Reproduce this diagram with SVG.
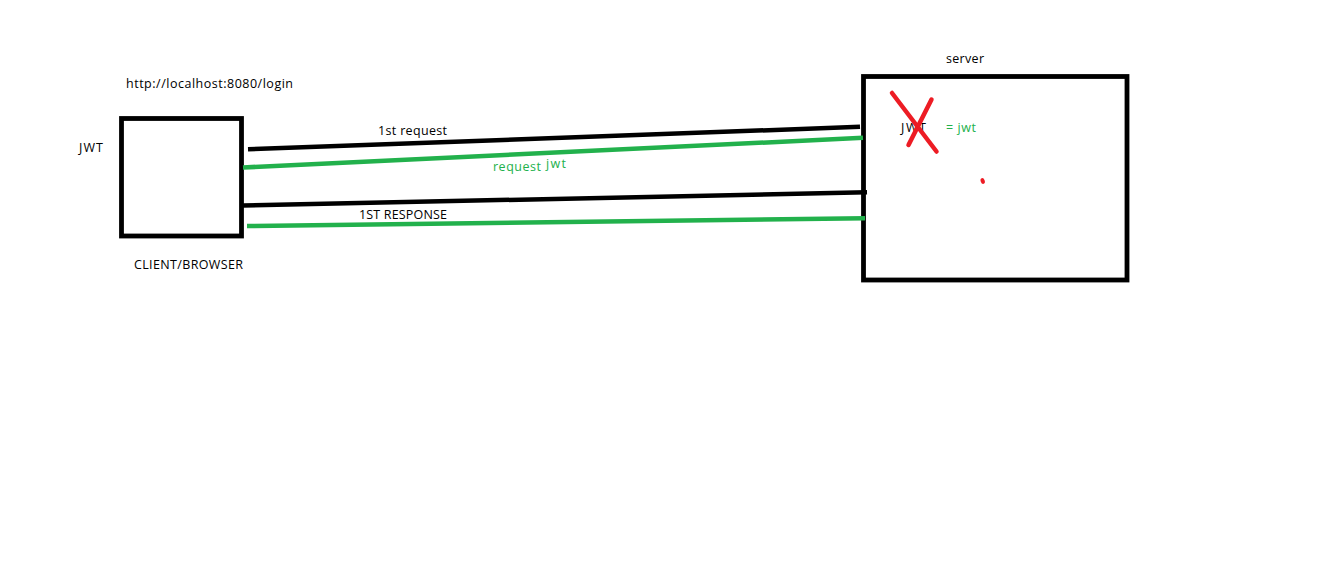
<svg xmlns="http://www.w3.org/2000/svg" width="1330" height="574" viewBox="0 0 1330 574">
<style>
.box{fill:#fff;stroke:#000;stroke-width:4.8}
.t{font-family:"Open Sans","Noto Sans","Liberation Sans",sans-serif;font-size:12.5px;fill:#000}
.g{fill:#22b14c}
.ln{fill:none;stroke-width:4.5;stroke-linecap:butt}
.blk{stroke:#000}
.grn{stroke:#22b14c}
.red{fill:none;stroke:#ed1c24;stroke-width:4.5;stroke-linecap:round}
</style>
<rect width="1330" height="574" fill="#fff"/>
<g id="client">
<rect class="box" x="121.5" y="118.5" width="120" height="117.5"/>
<text class="t" x="79" y="152" textLength="24">JWT</text>
<text class="t" x="134" y="269" textLength="109">CLIENT/BROWSER</text>
<text class="t" x="126" y="88" textLength="167">http://localhost:8080/login</text>
</g>
<g id="server">
<rect class="box" x="863.5" y="76.5" width="263.5" height="203.5"/>
<text class="t" x="946" y="63" textLength="38">server</text>
<text class="t" x="901" y="132" textLength="25">JWT</text>
<text class="t g" x="946" y="132" textLength="30">= jwt</text>
<line class="red" x1="892" y1="93" x2="936.5" y2="151.5"/>
<line class="red" x1="931.5" y1="99.5" x2="908.5" y2="145"/>
<ellipse cx="982.7" cy="181" rx="2" ry="3" fill="#ed1c24" transform="rotate(-20 982.7 181)"/>
</g>
<g id="connectors">
<line class="ln blk" x1="248" y1="149.3" x2="860" y2="126.8"/>
<line class="ln grn" x1="243" y1="167.5" x2="863" y2="137.8"/>
<line class="ln blk" x1="243" y1="205.5" x2="867" y2="192.3"/>
<line class="ln grn" x1="247" y1="226" x2="865" y2="218.3"/>
<text class="t" x="378" y="135" textLength="69">1st request</text>
<text class="t g" x="493" y="171" textLength="48">request</text>
<text class="t g" x="546" y="168" textLength="20">jwt</text>
<text class="t" x="359" y="219" textLength="88">1ST RESPONSE</text>
</g>
</svg>
